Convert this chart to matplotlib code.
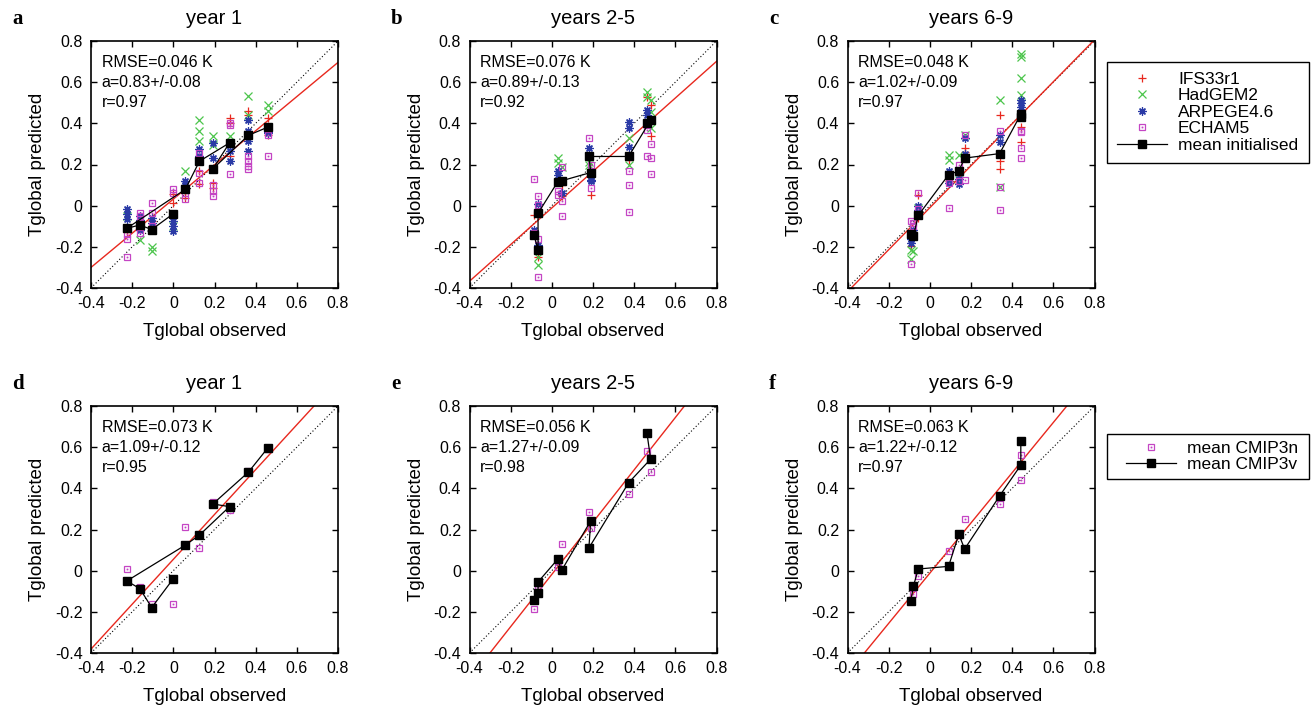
import matplotlib
matplotlib.use('Agg')
import matplotlib.pyplot as plt
from matplotlib.lines import Line2D
from matplotlib.legend_handler import HandlerTuple, HandlerLine2D

plt.rcParams['font.family'] = ['Liberation Sans', 'DejaVu Sans']

# ---------------- data ----------------
titles = ['year 1', 'years 2-5', 'years 6-9']
panel_letters = ['a', 'b', 'c', 'd', 'e', 'f']
ticks = [-0.4, -0.2, 0, 0.2, 0.4, 0.6, 0.8]
tick_labels = ['-0.4', '-0.2', '0', '0.2', '0.4', '0.6', '0.8']

# observed Tglobal per start date (chronological)
obs_y1 = [0.0, -0.105, -0.163, -0.226, 0.058, 0.127, 0.273, 0.192, 0.365, 0.458]
obs_y25 = [-0.086, -0.067, -0.067, 0.028, 0.048, 0.189, 0.180, 0.373, 0.480, 0.462]
obs_y69 = [-0.092, -0.080, -0.056, 0.091, 0.141, 0.169, 0.339, 0.442, 0.442]

# top row: multi-model ensemble members and mean initialised
ifs_y1 = [[0.055, 0.014], [-0.074, -0.11], [-0.10], [-0.13], [0.063, 0.039], [0.168, 0.103],
          [0.426, 0.402, 0.240], [0.111, 0.087], [0.458, 0.44], [0.426, 0.345]]
had_y1 = [[-0.098], [-0.203, -0.219], [-0.166], [-0.05], [0.168], [0.418, 0.362, 0.313],
          [0.337], [0.337, 0.297], [0.531, 0.442], [0.49, 0.458]]
arp_y1 = [[-0.074, -0.098, -0.122], [-0.058, -0.082, -0.106], [-0.05, -0.07, -0.10, -0.12],
          [-0.017, -0.042, -0.066], [0.12, 0.10], [0.273, 0.24], [0.297, 0.265, 0.216],
          [0.305, 0.233], [0.418, 0.362, 0.313, 0.265], [0.353, 0.36]]
ech_y1 = [[0.082, 0.063], [0.015, -0.034, -0.098], [-0.034, -0.050, -0.082, -0.131],
          [-0.138, -0.163, -0.247], [0.063, 0.031], [0.257, 0.16, 0.111], [0.40, 0.39, 0.152],
          [0.10, 0.07, 0.047], [0.24, 0.216, 0.192, 0.176], [0.345, 0.24]]
mean_init_y1 = [-0.039, -0.116, -0.094, -0.110, 0.079, 0.216, 0.305, 0.179, 0.342, 0.381]

ifs_y25 = [[-0.047], [-0.25], [], [], [0.045, 0.10], [0.053], [], [0.22], [0.49, 0.34], [0.53]]
had_y25 = [[], [-0.25, -0.29], [], [0.234, 0.206], [0.19], [], [0.214, 0.199], [0.327, 0.20],
           [0.513, 0.456, 0.376], [0.55, 0.529]]
arp_y25 = [[-0.116], [-0.19, -0.21], [0.008], [0.17, 0.15], [0.061], [0.126, 0.118],
           [0.279, 0.239], [0.408, 0.376, 0.287], [0.42], [0.465, 0.44]]
ech_y25 = [[0.129, -0.132], [-0.16, -0.346], [0.045, 0.005], [0.073, 0.053], [0.19, 0.021, -0.052],
           [0.20, 0.086], [0.327], [0.17, 0.102, -0.032], [0.30, 0.23, 0.153], [0.39, 0.368, 0.239]]
mean_init_y25 = [-0.144, -0.216, -0.037, 0.115, 0.121, 0.161, 0.239, 0.239, 0.415, 0.400]

ifs_y69 = [[-0.197], [-0.116], [0.053, -0.06], [0.118], [0.158], [0.279, 0.263],
           [0.44, 0.215, 0.179], [0.384], [0.311]]
had_y69 = [[-0.213, -0.261], [-0.22], [-0.011], [0.247, 0.223], [0.247, 0.126], [0.344],
           [0.513, 0.093], [0.739, 0.72], [0.618, 0.537]]
arp_y69 = [[-0.16, -0.18], [-0.12, -0.14], [0.0, -0.02], [0.166, 0.142, 0.11], [0.13, 0.105],
           [0.33, 0.25], [0.343, 0.31], [0.513, 0.497], [0.48, 0.456]]
ech_y69 = [[-0.076, -0.285], [-0.10, -0.084], [0.061, -0.015], [0.11, -0.011], [0.198, 0.118],
           [0.344, 0.126], [0.363, 0.093, -0.019], [0.363, 0.279], [0.36, 0.231]]
mean_init_y69 = [-0.140, -0.148, -0.047, 0.150, 0.169, 0.231, 0.253, 0.444, 0.430]

# bottom row: CMIP3 means
cmip3n_y1 = [-0.160, -0.163, -0.077, 0.006, 0.211, 0.111, 0.297, 0.334, 0.482, 0.590]
cmip3v_y1 = [-0.039, -0.179, -0.087, -0.050, 0.124, 0.173, 0.311, 0.324, 0.479, 0.595]
cmip3n_y25 = [-0.185, -0.081, -0.075, 0.018, 0.131, 0.206, 0.287, 0.371, 0.481, 0.581]
cmip3v_y25 = [-0.144, -0.108, -0.055, 0.055, 0.002, 0.242, 0.110, 0.427, 0.542, 0.669]
cmip3n_y69 = [-0.148, -0.111, -0.027, 0.094, 0.173, 0.252, 0.323, 0.440, 0.561]
cmip3v_y69 = [-0.145, -0.076, 0.008, 0.021, 0.177, 0.105, 0.363, 0.513, 0.631]

# statistics shown in each panel and regression lines
rmse = ['0.046', '0.076', '0.048', '0.073', '0.056', '0.063']
slope_txt = ['0.83+/-0.08', '0.89+/-0.13', '1.02+/-0.09', '1.09+/-0.12', '1.27+/-0.09', '1.22+/-0.12']
corr = ['0.97', '0.92', '0.97', '0.95', '0.98', '0.97']
fit_slope = [0.83, 0.89, 1.02, 1.09, 1.27, 1.22]
fit_intercept = [0.032, -0.011, -0.01, 0.055, -0.018, -0.012]

model_labels = ['IFS33r1', 'HadGEM2', 'ARPEGE4.6', 'ECHAM5', 'mean initialised']
cmip_labels = ['mean CMIP3n', 'mean CMIP3v']

# ---------------- style ----------------
RED = '#e8281e'
GREEN = '#4cc54c'
BLUE = '#2a3aa6'
MAGENTA = '#c445c4'
W, H = 1312, 714

fig = plt.figure(figsize=(W / 100, H / 100), dpi=100)


def add_ax(left, top, right, bottom):
    return fig.add_axes([left / W, 1 - bottom / H, (right - left) / W, (bottom - top) / H])


boxes = [(91, 41, 338, 288), (469.5, 41, 716.5, 288), (847.5, 41, 1094.5, 288),
         (91, 406, 338, 653), (469.5, 406, 716.5, 653), (847.5, 406, 1094.5, 653)]

mk = dict(ls='none', ms=5.8, mew=0.9)
sq_style = dict(ls='none', marker='s', ms=5.0, mfc='none', mec=MAGENTA, mew=0.9)
dot_style = dict(ls='none', marker='s', ms=0.9, mfc=MAGENTA, mec=MAGENTA, mew=0.3)
mean_style = dict(color='black', lw=0.9, marker='s', ms=6.3, mfc='black', mec='black')


def flatten(xs, vals):
    px, py = [], []
    for x, v in zip(xs, vals):
        px += [x] * len(v)
        py += list(v)
    return px, py


def echam(ax, xs, ys):
    ax.plot(xs, ys, **sq_style)
    ax.plot(xs, ys, **dot_style)


def setup(ax, i):
    ax.set_xlim(-0.4, 0.8)
    ax.set_ylim(-0.4, 0.8)
    ax.set_xticks(ticks)
    ax.set_xticklabels(tick_labels)
    ax.set_yticks(ticks)
    ax.set_yticklabels(tick_labels)
    ax.tick_params(direction='in', top=True, right=True, length=4.5, width=1.0,
                   labelsize=11.5, pad=6)
    for s in ax.spines.values():
        s.set_linewidth(1.2)
    ax.set_xlabel('Tglobal observed', fontsize=13.5)
    ax.set_ylabel('Tglobal predicted', fontsize=13.5)
    ax.xaxis.set_label_coords(0.5, -0.142)
    ax.yaxis.set_label_coords(-0.182, 0.5)
    ax.set_title(titles[i % 3], fontsize=14.5, pad=12)
    ax.plot([-0.4, 0.8], [-0.4, 0.8], color='black', ls=(0, (1, 2)), lw=0.8)
    ax.axline((0, fit_intercept[i]), slope=fit_slope[i], color=RED, lw=1.0)
    ax.text(0.043, 0.893, f'RMSE={rmse[i]} K', transform=ax.transAxes, fontsize=11.5)
    ax.text(0.043, 0.812, f'a={slope_txt[i]}', transform=ax.transAxes, fontsize=11.5)
    ax.text(0.043, 0.731, f'r={corr[i]}', transform=ax.transAxes, fontsize=11.5)


axes = [add_ax(*b) for b in boxes]
for i, ax in enumerate(axes):
    setup(ax, i)

top_sets = [
    (obs_y1, ifs_y1, had_y1, arp_y1, ech_y1, mean_init_y1),
    (obs_y25, ifs_y25, had_y25, arp_y25, ech_y25, mean_init_y25),
    (obs_y69, ifs_y69, had_y69, arp_y69, ech_y69, mean_init_y69),
]
for ax, (obs, ifs, had, arp, ech, mean) in zip(axes[:3], top_sets):
    ax.plot(*flatten(obs, ifs), marker='+', color=RED, **mk)
    ax.plot(*flatten(obs, had), marker='x', color=GREEN, **mk)
    ax.plot(*flatten(obs, arp), marker=(8, 2, 0), color=BLUE, **mk)
    echam(ax, *flatten(obs, ech))
    ax.plot(obs, mean, **mean_style)

bot_sets = [(obs_y1, cmip3n_y1, cmip3v_y1), (obs_y25, cmip3n_y25, cmip3v_y25),
            (obs_y69, cmip3n_y69, cmip3v_y69)]
for ax, (obs, n, v) in zip(axes[3:], bot_sets):
    echam(ax, obs, n)
    ax.plot(obs, v, **mean_style)

# panel letters
letter_pos = [(12, 24), (391, 24), (769, 24), (12, 389), (391, 389), (769, 389)]
for (lx, ly), lt in zip(letter_pos, panel_letters):
    fig.text(lx / W, 1 - ly / H, lt, fontfamily='Liberation Serif', fontweight='bold',
             fontsize=15)

# legends
h_ifs = Line2D([], [], marker='+', color=RED, **mk)
h_had = Line2D([], [], marker='x', color=GREEN, **mk)
h_arp = Line2D([], [], marker=(8, 2, 0), color=BLUE, **mk)
h_ech = (Line2D([], [], **sq_style), Line2D([], [], **dot_style))
h_mean = Line2D([], [], **mean_style)

common = dict(loc='upper left', mode='expand', borderaxespad=0, fancybox=False,
              edgecolor='black', framealpha=1, fontsize=12.5, labelspacing=0.075,
              handletextpad=0.62)
leg1 = fig.legend([h_ifs, h_had, h_arp, h_ech, h_mean], model_labels,
                  bbox_to_anchor=(1107 / W, 1 - 62 / H, 202 / W, 0.0001),
                  handlelength=2.9, borderpad=0.57,
                  handler_map={tuple: HandlerTuple(ndivide=1, pad=0)}, **common)
leg1.get_frame().set_linewidth(1.0)
xp = 0.7
leg2 = fig.legend([h_ech, h_mean], cmip_labels,
                  bbox_to_anchor=(1107 / W, 1 - 434 / H, 202 / W, 0.0001),
                  handlelength=2.9 + xp, borderpad=0.4,
                  handler_map={tuple: HandlerTuple(ndivide=1, pad=0, xpad=xp),
                               Line2D: HandlerLine2D(xpad=xp)}, **common)
leg2.get_frame().set_linewidth(1.0)

fig.savefig('out.png', dpi=100)
